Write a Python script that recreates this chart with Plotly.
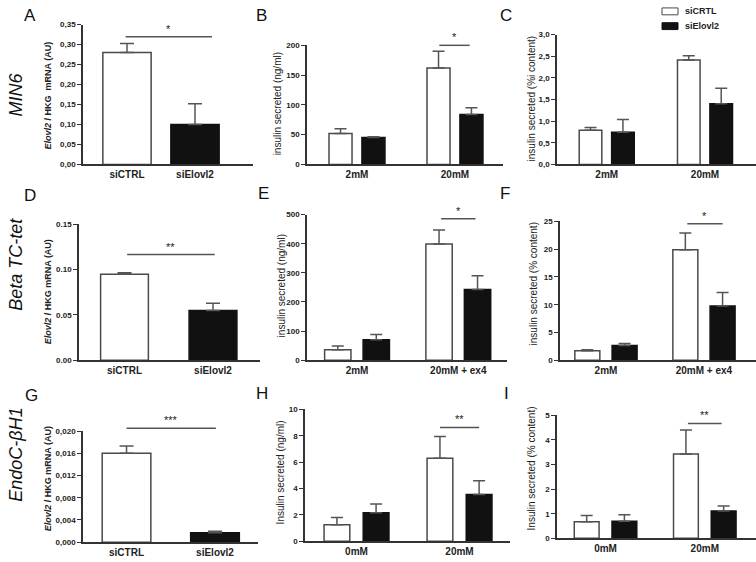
import plotly.graph_objects as go

W, H = 756, 562

# ---------------- DATA ----------------
mrna_cats = ["siCTRL", "siElovl2"]
A_vals = [0.280, 0.100]
A_err = [0.023, 0.052]
D_vals = [0.095, 0.055]
D_err = [0.0015, 0.008]
G_vals = [0.0160, 0.00172]
G_err = [0.0013, 0.00024]

B_cats = ["2mM", "20mM"]
B_ctrl = [52, 162]
B_ctrl_err = [8, 28]
B_kd = [45, 84]
B_kd_err = [1.5, 11]

C_cats = ["2mM", "20mM"]
C_ctrl = [0.786, 2.41]
C_ctrl_err = [0.068, 0.10]
C_kd = [0.74, 1.40]
C_kd_err = [0.295, 0.36]

E_cats = ["2mM", "20mM + ex4"]
E_ctrl = [36, 399]
E_ctrl_err = [13, 48]
E_kd = [70, 243]
E_kd_err = [18, 47]

F_cats = ["2mM", "20mM + ex4"]
F_ctrl = [1.7, 19.9]
F_ctrl_err = [0.2, 3.0]
F_kd = [2.66, 9.75]
F_kd_err = [0.35, 2.45]

H_cats = ["0mM", "20mM"]
H_ctrl = [1.25, 6.3]
H_ctrl_err = [0.55, 1.65]
H_kd = [2.17, 3.55]
H_kd_err = [0.66, 1.03]

I_cats = ["0mM", "20mM"]
I_ctrl = [0.67, 3.43]
I_ctrl_err = [0.26, 0.97]
I_kd = [0.69, 1.11]
I_kd_err = [0.27, 0.20]

A_ticks = [0, 0.05, 0.10, 0.15, 0.20, 0.25, 0.30, 0.35]
A_ticktext = ["0,00", "0,05", "0,10", "0,15", "0,20", "0,25", "0,30", "0,35"]
B_ticks = [0, 50, 100, 150, 200]
B_ticktext = ["0", "50", "100", "150", "200"]
C_ticks = [0, 0.5, 1.0, 1.5, 2.0, 2.5, 3.0]
C_ticktext = ["0,0", "0,5", "1,0", "1,5", "2,0", "2,5", "3,0"]
D_ticks = [0, 0.05, 0.10, 0.15]
D_ticktext = ["0.00", "0.05", "0.10", "0.15"]
E_ticks = [0, 100, 200, 300, 400, 500]
E_ticktext = ["0", "100", "200", "300", "400", "500"]
F_ticks = [0, 5, 10, 15, 20, 25]
F_ticktext = ["0", "5", "10", "15", "20", "25"]
G_ticks = [0, 0.004, 0.008, 0.012, 0.016, 0.020]
G_ticktext = ["0,000", "0,004", "0,008", "0,012", "0,016", "0,020"]
H_ticks = [0, 2, 4, 6, 8, 10]
H_ticktext = ["0", "2", "4", "6", "8", "10"]
I_ticks = [0, 1, 2, 3, 4, 5]
I_ticktext = ["0", "1", "2", "3", "4", "5"]

sig_levels = {"A": 0.32, "B": 200, "D": 0.1167, "E": 486, "F": 24.6, "G": 0.0205, "H": 8.63, "I": 4.67}
sig_labels = {"A": "*", "B": "*", "D": "**", "E": "*", "F": "*", "G": "***", "H": "**", "I": "**"}

y_titles = {
    "A": "<b><i>Elovl2</i> / HKG  mRNA (AU)</b>",
    "B": "insulin secreted (ng/ml)",
    "C": "insulin secreted (%i content)",
    "D": "<b><i>Elovl2</i> / HKG mRNA (AU)</b>",
    "E": "insulin secreted (ng/ml)",
    "F": "insulin secreted (% content)",
    "G": "<b><i>Elovl2</i> / HKG mRNA (AU)</b>",
    "H": "Insulin secreted (ng/ml)",
    "I": "Insulin secreted (% content)",
}
row_labels = ["MIN6", "Beta TC-tet", "EndoC-βH1"]
legend_labels = ["siCRTL", "siElovl2"]

# ---------------- STYLE / LAYOUT ----------------
FONT = "Liberation Sans, Arial, sans-serif"
AX = "#333333"
EDGE = "#4a4a4a"
ERRC = "#555555"
BLACK = "#111111"

# panel geometry in pixels: x0, x1, ytop, ybottom ; xrange ; bar width / offset
panels = [
    dict(k="A", px=(83, 253, 21, 163), yr=(0, 0.35), xr=(-0.647, 1.853), single=True, w=0.71,
         cats=mrna_cats, vals=A_vals, err=A_err, tv=A_ticks, tt=A_ticktext, sx=(-0.02, 1.25),
         tx=48, ty=93, lx=30, ly=12, cap=7),
    dict(k="B", px=(307, 503, 42, 163), yr=(0, 200), xr=(-0.51, 1.49), single=False, w=0.235, d=0.168,
         cats=B_cats, c=B_ctrl, ce=B_ctrl_err, s=B_kd, se=B_kd_err, tv=B_ticks, tt=B_ticktext, sx=(0.84, 1.15),
         tx=277, ty=102, lx=261, ly=12, cap=6),
    dict(k="C", px=(557, 756, 31, 163), yr=(0, 3.0), xr=(-0.506, 1.519), single=False, w=0.23, d=0.165,
         cats=C_cats, c=C_ctrl, ce=C_ctrl_err, s=C_kd, se=C_kd_err, tv=C_ticks, tt=C_ticktext, sx=None,
         tx=531, ty=96, lx=506, ly=12, cap=6),
    dict(k="D", px=(79, 260, 224, 362), yr=(0, 0.15), xr=(-0.514, 1.531), single=True, w=0.54,
         cats=mrna_cats, vals=D_vals, err=D_err, tv=D_ticks, tt=D_ticktext, sx=(0.03, 1.02),
         tx=48, ty=293, lx=30, ly=195, cap=7),
    dict(k="E", px=(307, 507, 214, 362), yr=(0, 500), xr=(-0.494, 1.481), single=False, w=0.26, d=0.19,
         cats=E_cats, c=E_ctrl, ce=E_ctrl_err, s=E_kd, se=E_kd_err, tv=E_ticks, tt=E_ticktext, sx=(0.83, 1.17),
         tx=281, ty=287, lx=263, ly=193, cap=6),
    dict(k="F", px=(560, 756, 221, 362), yr=(0, 25), xr=(-0.469, 1.531), single=False, w=0.255, d=0.19,
         cats=F_cats, c=F_ctrl, ce=F_ctrl_err, s=F_kd, se=F_kd_err, tv=F_ticks, tt=F_ticktext, sx=(0.83, 1.19),
         tx=533, ty=285, lx=505, ly=193, cap=6),
    dict(k="G", px=(83, 258, 434, 547), yr=(0, 0.020), xr=(-0.492, 1.486), single=True, w=0.55,
         cats=mrna_cats, vals=G_vals, err=G_err, tv=G_ticks, tt=G_ticktext, sx=(0.0, 1.01),
         tx=48, ty=483, lx=31, ly=398, cap=7),
    dict(k="H", px=(305, 510, 412, 546), yr=(0, 10), xr=(-0.50, 1.49), single=False, w=0.25, d=0.19,
         cats=H_cats, c=H_ctrl, ce=H_ctrl_err, s=H_kd, se=H_kd_err, tv=H_ticks, tt=H_ticktext, sx=(0.81, 1.19),
         tx=280, ty=476, lx=262, ly=396, cap=6),
    dict(k="I", px=(557, 756, 418, 543), yr=(0, 5), xr=(-0.489, 1.516), single=False, w=0.25, d=0.19,
         cats=I_cats, c=I_ctrl, ce=I_ctrl_err, s=I_kd, se=I_kd_err, tv=I_ticks, tt=I_ticktext, sx=(0.83, 1.17),
         tx=531, ty=472, lx=506, ly=396, cap=6),
]

fig = go.Figure()
annotations = []
shapes = []


def err_spec(arr, cap):
    return dict(type="data", symmetric=False, array=arr, arrayminus=[0] * len(arr),
                color=ERRC, thickness=1.5, width=cap)


for i, p in enumerate(panels, start=1):
    xa = "x" if i == 1 else f"x{i}"
    ya = "y" if i == 1 else f"y{i}"
    x0, x1, yt, yb = p["px"]
    xdom = [x0 / W, x1 / W]
    ydom = [1 - yb / H, 1 - yt / H]
    pos = list(range(len(p["cats"])))
    fig.update_layout(**{
        f"xaxis{i}": dict(domain=xdom, range=list(p["xr"]), anchor=ya,
                          tickmode="array", tickvals=pos, ticktext=[f"<b>{c}</b>" for c in p["cats"]], ticks="",
                          showline=True, linecolor=AX, linewidth=1.5, showgrid=False, zeroline=False,
                          tickfont=dict(family=FONT, size=10, color="#222"), fixedrange=True),
        f"yaxis{i}": dict(domain=ydom, range=list(p["yr"]), anchor=xa,
                          tickmode="array", tickvals=p["tv"], ticktext=[f"<b>{t}</b>" for t in p["tt"]],
                          ticks="outside", ticklen=4, tickwidth=1, tickcolor=AX,
                          showline=True, linecolor=AX, linewidth=1.5, showgrid=False, zeroline=False,
                          tickfont=dict(family=FONT, size=8, color="#222"), fixedrange=True),
    })
    if p["single"]:
        fig.add_trace(go.Bar(x=pos, y=p["vals"], width=p["w"], xaxis=xa, yaxis=ya,
                             marker=dict(color=["white", BLACK], line=dict(color=[EDGE, BLACK], width=1.5)),
                             error_y=err_spec(p["err"], p["cap"]), showlegend=False))
    else:
        w, d = p["w"], p["d"]
        fig.add_trace(go.Bar(x=pos, y=p["c"], width=w, offset=-d - w / 2, xaxis=xa, yaxis=ya,
                             marker=dict(color="white", line=dict(color=EDGE, width=1.5)),
                             error_y=err_spec(p["ce"], p["cap"]), showlegend=False))
        fig.add_trace(go.Bar(x=pos, y=p["s"], width=w, offset=d - w / 2, xaxis=xa, yaxis=ya,
                             marker=dict(color=BLACK, line=dict(color=BLACK, width=1.5)),
                             error_y=err_spec(p["se"], p["cap"]), showlegend=False))
    # significance bar (paper coords so it is never clipped by the axis range)
    if p["sx"] is not None:
        lvl = sig_levels[p["k"]]
        r0, r1 = p["yr"]
        yp = ydom[0] + (lvl - r0) / (r1 - r0) * (ydom[1] - ydom[0])
        a0, a1 = p["xr"]
        xp = [xdom[0] + (v - a0) / (a1 - a0) * (xdom[1] - xdom[0]) for v in p["sx"]]
        shapes.append(dict(type="line", xref="paper", yref="paper", x0=xp[0], x1=xp[1], y0=yp, y1=yp,
                           line=dict(color=ERRC, width=1.5)))
        annotations.append(dict(x=sum(xp) / 2, y=yp, xref="paper", yref="paper", text=sig_labels[p["k"]],
                                showarrow=False, yanchor="bottom", xanchor="center",
                                font=dict(family=FONT, size=11, color="#222")))
    # y title
    annotations.append(dict(x=p["tx"] / W, y=1 - p["ty"] / H, xref="paper", yref="paper",
                            text=y_titles[p["k"]], textangle=-90, showarrow=False,
                            xanchor="center", yanchor="middle",
                            font=dict(family=FONT, size=9 if p["single"] else 10, color="#222")))
    # panel letter
    annotations.append(dict(x=p["lx"] / W, y=1 - p["ly"] / H, xref="paper", yref="paper",
                            text=p["k"], showarrow=False, xanchor="center", yanchor="middle",
                            font=dict(family=FONT, size=17, color="#111")))

# row labels
for lab, yc in zip(row_labels, [92, 265, 458]):
    annotations.append(dict(x=16 / W, y=1 - yc / H, xref="paper", yref="paper",
                            text=f"<i>{lab}</i>", textangle=-90, showarrow=False,
                            xanchor="center", yanchor="middle",
                            font=dict(family=FONT, size=18, color="#111")))

# legend (panel C)
for j, (lab, fill, edge) in enumerate(zip(legend_labels, ["white", BLACK], [EDGE, BLACK])):
    yc = 7.5 + 15 * j
    shapes.append(dict(type="rect", xref="paper", yref="paper",
                       x0=662 / W, x1=678 / W, y0=1 - (yc + 3.5) / H, y1=1 - (yc - 3.5) / H,
                       fillcolor=fill, line=dict(color=edge, width=1)))
    annotations.append(dict(x=683 / W, y=1 - yc / H, xref="paper", yref="paper", text=f"<b>{lab}</b>",
                            showarrow=False, xanchor="left", yanchor="middle",
                            font=dict(family=FONT, size=9, color="#222")))

fig.update_layout(width=W, height=H, margin=dict(l=0, r=0, t=0, b=0),
                  paper_bgcolor="white", plot_bgcolor="white", barmode="overlay",
                  annotations=annotations, shapes=shapes, showlegend=False,
                  font=dict(family=FONT))

fig.write_html("out.html", config={"displayModeBar": False},
               post_script="document.body.style.margin='0';")
